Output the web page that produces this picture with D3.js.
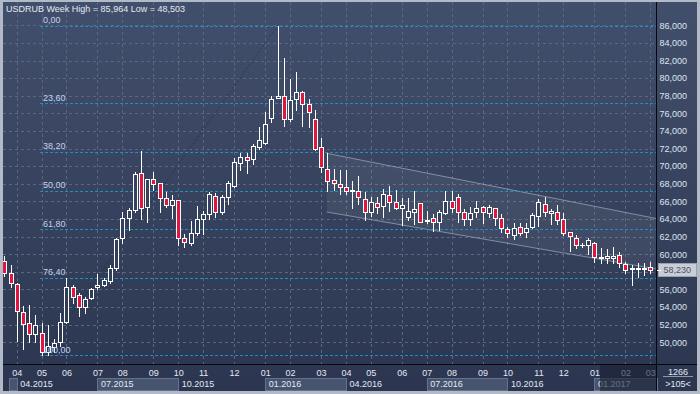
<!DOCTYPE html>
<html><head><meta charset="utf-8">
<script src="https://cdn.jsdelivr.net/npm/d3@7"></script>
<style>html,body{margin:0;padding:0;background:#b3bac7;overflow:hidden}svg{display:block}</style>
</head><body><svg id="c" width="700" height="394"></svg>
<script>
// ---- data (weekly candles, USDRUB) ----
const opens  = [59.27,57.84,56.59,53.41,52.16,50.94,51.02,48.93,49.50,50.07,52.34,56.25,55.37,54.04,55.00,56.25,56.51,57.00,58.41,61.81,64.08,65.03,69.19,65.40,68.51,68.06,66.42,65.56,66.13,61.81,61.24,62.38,63.97,64.54,66.65,64.76,66.47,67.79,70.40,71.04,70.78,72.21,72.60,75.51,77.78,77.94,75.39,77.60,78.43,77.03,75.33,72.15,69.65,68.40,67.98,67.60,67.18,67.18,66.27,64.76,65.79,65.51,66.73,65.97,65.29,64.20,64.76,65.79,63.82,64.08,63.63,64.65,66.05,66.47,64.83,63.97,64.83,65.33,64.65,65.22,64.08,62.83,62.19,63.06,62.49,63.06,64.34,65.71,64.65,64.83,63.97,62.47,61.88,61.02,61.05,61.24,59.62,59.54,59.60,59.92,58.89,58.36,58.38,58.36,58.52];
const highs  = [59.80,58.78,56.70,54.12,54.24,53.10,52.23,51.97,50.38,53.33,57.27,56.51,55.63,55.18,56.13,57.72,57.27,58.78,61.85,64.83,65.29,69.31,71.73,68.60,69.31,68.10,67.10,66.73,66.20,62.30,63.81,65.51,64.91,67.10,66.92,66.73,68.35,70.90,71.46,71.53,72.52,74.42,76.12,78.01,85.964,82.32,79.90,80.73,78.54,77.63,76.38,73.17,71.46,69.65,69.57,69.57,68.32,68.89,67.10,66.54,66.54,67.41,67.79,67.30,66.35,66.35,67.18,65.85,64.91,64.54,65.03,67.18,67.18,66.84,65.11,65.33,66.05,65.48,65.59,65.25,64.57,63.13,63.52,63.58,63.52,64.65,66.27,66.54,65.14,65.59,64.68,62.50,62.19,61.24,61.81,61.43,60.68,60.56,60.79,60.29,59.15,58.78,58.97,58.97,59.15];
const lows   = [57.53,56.25,50.18,49.24,50.07,50.07,48.503,48.60,48.93,49.58,52.16,54.43,53.02,53.36,54.89,56.02,56.39,56.70,58.21,61.31,62.75,64.83,63.97,63.70,67.30,64.83,65.33,64.08,61.00,60.79,61.05,62.19,62.30,63.97,64.26,64.54,65.71,67.67,69.57,69.26,70.25,71.92,72.50,75.05,77.70,74.56,75.17,76.38,74.56,74.49,71.84,69.38,67.22,67.30,66.81,66.81,65.22,65.67,63.89,64.38,64.65,64.26,64.91,65.14,63.32,63.89,63.40,63.65,63.52,62.64,62.75,64.54,64.83,63.70,63.32,63.32,64.26,63.58,64.20,63.32,62.56,61.93,61.73,62.19,61.93,62.95,63.21,64.34,63.44,63.44,62.24,60.40,60.68,60.79,60.03,59.15,59.04,58.97,59.04,58.52,57.84,56.51,57.45,57.64,57.91];
const closes = [57.84,56.70,53.59,52.05,50.94,51.97,48.93,49.58,49.96,52.34,56.25,55.18,54.04,54.89,56.02,56.51,57.08,58.41,61.70,64.08,65.03,69.08,65.22,68.51,67.94,66.42,65.59,66.13,61.81,61.36,62.38,63.97,64.54,66.81,64.76,66.54,68.13,70.44,71.01,70.67,72.29,72.97,74.76,77.63,77.94,75.39,77.52,78.43,77.03,76.19,71.92,69.94,68.35,68.13,67.67,67.18,67.24,66.54,64.76,65.97,65.40,66.81,65.97,65.29,65.59,64.91,65.14,63.70,63.88,63.70,64.76,66.05,65.22,64.76,63.97,64.65,65.22,64.83,65.33,64.08,62.95,62.38,62.95,62.38,62.95,64.46,65.90,64.76,64.91,63.89,62.45,62.02,61.05,61.10,61.59,59.65,59.72,59.80,59.80,58.97,58.21,58.44,58.44,58.44,58.23];

const priceTicks = [50,52,54,56,58,60,62,64,66,68,70,72,74,76,78,80,82,84,86];
const monthLabels = ["04","05","06","07","08","09","10","11","12","01","02","03","04","05","06","07","08","09","10","11","12","01","02","03"];
const monthIdx    = [2,6,10,15,19,24,28,32,37,42,46,51,55,59,64,68,72,77,81,86,90,95,100,104];
const quarterLabels = ["04.2015","07.2015","10.2015","01.2016","04.2016","07.2016","10.2016","01.2017"];
const quarterIdx    = [2,15,28,42,55,68,81,95];
const fibLevels = [0,23.6,38.2,50,61.8,76.4,100];
const fibLabels = ["0,00","23,60","38,20","50,00","61,80","76,40","100,00"];
const channelUpper = [[51.92,71.46],[104.94,64.06]];
const channelLower = [[51.92,64.80],[104.94,58.33]];
const lastPrice = 58.230;
const lastLabel = "58,230";
const title = "USDRUB Week High = 85,964 Low = 48,503";

// ---- layout ----
const PL=3, PR=656.5, PT=2, PB=364.5;
const FONT = "'Liberation Sans', Arial, sans-serif";
const svg = d3.select("#c");
const defs = svg.append("defs");
const g = defs.append("linearGradient").attr("id","bg").attr("gradientUnits","userSpaceOnUse")
  .attr("x1",0).attr("y1",0).attr("x2",0).attr("y2",394);
g.append("stop").attr("offset",0).attr("stop-color","#424f6c");
g.append("stop").attr("offset",0.45).attr("stop-color","#38445f");
g.append("stop").attr("offset",1).attr("stop-color","#2b3550");
defs.append("clipPath").attr("id","plot").append("rect")
  .attr("x",PL).attr("y",PT).attr("width",PR-PL).attr("height",PB-PT);

svg.append("rect").attr("x",3).attr("y",2).attr("width",694).attr("height",389).attr("fill","url(#bg)");

const n = opens.length;
const x = d3.scaleLinear().domain([0,104]).range([4.3,650.3]);
const y = d3.scaleLinear().domain([50,86]).range([342.3,25.3]);
const px = v => Math.round(v)+0.5;

const plot = svg.append("g").attr("clip-path","url(#plot)");

// grid
plot.selectAll("line.hg").data(priceTicks).join("line")
  .attr("x1",PL).attr("x2",PR).attr("y1",d=>px(y(d))).attr("y2",d=>px(y(d)))
  .attr("stroke","#5a6682").attr("stroke-dasharray","3,3");
plot.selectAll("line.vg").data(monthIdx).join("line")
  .attr("x1",d=>px(x(d))).attr("x2",d=>px(x(d))).attr("y1",PT).attr("y2",PB)
  .attr("stroke","#5a6682").attr("stroke-dasharray","3,3");

// channel
const ch = [channelUpper[0],channelUpper[1],channelLower[1],channelLower[0]];
plot.append("path").attr("d","M"+ch.map(p=>x(p[0])+","+y(p[1])).join("L")+"Z")
  .attr("fill","rgba(255,255,255,0.055)");
[channelUpper,channelLower].forEach(c=>{
  plot.append("line").attr("x1",x(c[0][0])).attr("y1",y(c[0][1])).attr("x2",x(c[1][0])).attr("y2",y(c[1][1]))
    .attr("stroke","rgba(190,198,215,0.55)").attr("stroke-width",1);
});

// fibonacci
const hi = d3.max(highs), lo = d3.min(lows);
const hiI = highs.indexOf(hi), loI = lows.indexOf(lo);
const fibX0 = x(loI)-1.5;
plot.append("line").attr("x1",x(loI)).attr("y1",y(lo)).attr("x2",x(hiI)).attr("y2",y(hi))
  .attr("stroke","rgba(25,32,52,0.45)").attr("stroke-dasharray","2,2");
fibLevels.forEach((lv,i)=>{
  const v = hi - lv/100*(hi-lo);
  const yy = px(y(v));
  plot.append("line").attr("x1",fibX0).attr("x2",PR).attr("y1",yy).attr("y2",yy)
    .attr("stroke","#1f8fc4").attr("stroke-dasharray","3,2");
});

// candles
const idx = d3.range(n);
const cg = plot.append("g");
cg.selectAll("line.w").data(idx).join("line")
  .attr("x1",i=>px(x(i))).attr("x2",i=>px(x(i)))
  .attr("y1",i=>Math.round(y(highs[i]))).attr("y2",i=>Math.round(y(lows[i]))+1)
  .attr("stroke","#ffffff");
idx.forEach(i=>{
  const cx = px(x(i));
  const t = px(y(Math.max(opens[i],closes[i])));
  const b = px(y(Math.min(opens[i],closes[i])));
  const up = closes[i] >= opens[i];
  if (b - t < 1) {
    cg.append("line").attr("x1",cx-2.5).attr("x2",cx+2.5).attr("y1",t).attr("y2",t).attr("stroke","#fff");
  } else {
    cg.append("rect").attr("x",cx-2).attr("y",t).attr("width",4).attr("height",b-t)
      .attr("fill", up ? "url(#bg)" : "#e0163e").attr("stroke","#ffffff").attr("stroke-width",1);
  }
});

// fib labels (on top)
fibLevels.forEach((lv,i)=>{
  const v = hi - lv/100*(hi-lo);
  svg.append("text").attr("x",43).attr("y",y(v)-2.5).text(fibLabels[i])
    .attr("font-family",FONT).attr("font-size",9).attr("fill","#c4d2ea");
});

// title
svg.append("text").attr("x",6).attr("y",11.5).text(title)
  .attr("font-family",FONT).attr("font-size",9).attr("fill","#e4e9f2");

// right axis (labels hidden under the last-price box are not drawn)
const ly = y(lastPrice);
svg.selectAll("text.ra").data(priceTicks.filter(d=>Math.abs(y(d)-ly)>11)).join("text")
  .attr("x",659.5).attr("y",d=>y(d)+3.3).text(d=>(d+",000"))
  .attr("font-family",FONT).attr("font-size",9).attr("fill","#dfe5ef");

// last price box
svg.append("rect").attr("x",658.5).attr("y",Math.round(ly)-6.5).attr("width",38).attr("height",13)
  .attr("fill","#c9cdd5").attr("stroke","#9aa2b2");
svg.append("text").attr("x",663.5).attr("y",ly+3.3).text(lastLabel)
  .attr("font-family",FONT).attr("font-size",9).attr("fill","#4a5366");
svg.append("line").attr("x1",657).attr("x2",661).attr("y1",px(ly)).attr("y2",px(ly)).attr("stroke","#fff");

// bottom axis: quarter boxes
const qEdges = [9].concat(quarterIdx.map(i=>x(i))).concat([PR]);
for (let k=0;k<qEdges.length-1;k+=2){
  svg.append("rect").attr("x",px(qEdges[k])).attr("y",378.5)
    .attr("width",Math.max(0,Math.round(qEdges[k+1])-Math.round(qEdges[k])))
    .attr("height",12).attr("fill","#46546f").attr("stroke","#66718c");
}
svg.selectAll("text.m").data(monthLabels).join("text")
  .attr("x",(d,i)=>x(monthIdx[i])+0.5).attr("y",375.5).attr("text-anchor","middle").text(d=>d)
  .attr("font-family",FONT).attr("font-size",9).attr("fill","#e2e8f2");
svg.selectAll("text.q").data(quarterLabels).join("text")
  .attr("x",(d,i)=>x(quarterIdx[i])+3.5).attr("y",387).text(d=>d)
  .attr("font-family",FONT).attr("font-size",9).attr("fill","#e2e8f2");

// dim overlay on the latest period in the time axis
svg.append("rect").attr("x",600).attr("y",365).attr("width",PR-600).attr("height",26)
  .attr("fill","rgba(26,32,52,0.62)");

// bottom-right info
svg.append("text").attr("x",678).attr("y",375.3).attr("text-anchor","middle").text("1266")
  .attr("font-family",FONT).attr("font-size",9).attr("fill","#e2e8f2");
svg.append("line").attr("x1",663).attr("x2",693).attr("y1",376.5).attr("y2",376.5).attr("stroke","#8e98ad");
svg.append("text").attr("x",678).attr("y",387.3).attr("text-anchor","middle").text(">105<")
  .attr("font-family",FONT).attr("font-size",9).attr("fill","#e2e8f2");

// separators
svg.append("line").attr("x1",PR).attr("x2",PR).attr("y1",2).attr("y2",391).attr("stroke","#05070c");
svg.append("line").attr("x1",3).attr("x2",697).attr("y1",PB).attr("y2",PB).attr("stroke","#05070c");
</script></body></html>
